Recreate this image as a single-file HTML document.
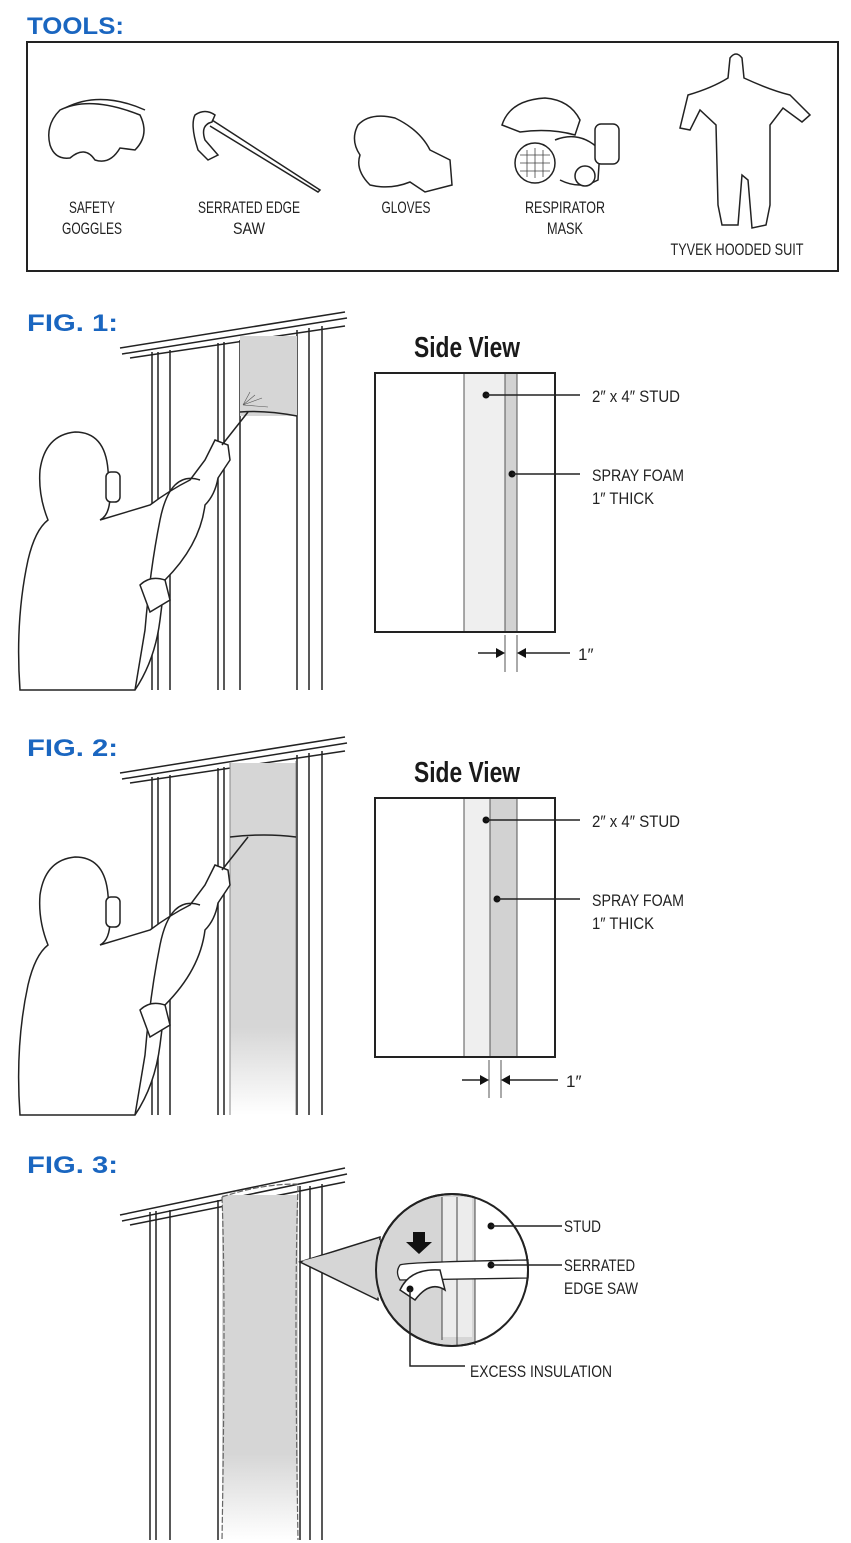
<!DOCTYPE html>
<html><head><meta charset="utf-8"><style>
html,body{margin:0;padding:0;background:#fff;}
svg{display:block;}
.t{font-family:"Liberation Sans",sans-serif;font-size:17px;fill:#222;}
.h{font-family:"Liberation Sans",sans-serif;font-weight:bold;font-size:24px;fill:#1a66c0;}
.sv{font-family:"Liberation Sans",sans-serif;font-weight:bold;font-size:29px;fill:#1a1a1a;}
.ln{stroke:#222;stroke-width:1.5;fill:none;}
.lw{stroke:#222;stroke-width:1.5;fill:#fff;}
</style></head><body>
<svg width="851" height="1543" viewBox="0 0 851 1543" xmlns="http://www.w3.org/2000/svg">
<defs>
<linearGradient id="fade" x1="0" y1="0" x2="0" y2="1"><stop offset="0.75" stop-color="#d6d6d6"/><stop offset="1" stop-color="#fff"/></linearGradient>
<linearGradient id="fadeW" x1="0" y1="0" x2="0" y2="1"><stop offset="0.8" stop-color="#222"/><stop offset="1" stop-color="#fff"/></linearGradient>
</defs>
<text class="h" x="27" y="34" textLength="97" lengthAdjust="spacingAndGlyphs">TOOLS:</text>
<rect x="27" y="42" width="811" height="229" fill="none" stroke="#222" stroke-width="2"/>
<path class="ln" d="M60 110 Q90 95 140 115 Q150 135 135 150 L120 148 Q110 165 95 160 Q85 145 70 158 Q55 160 50 145 Q45 125 60 110Z"/>
<path class="ln" d="M65 108 Q100 90 145 110"/>
<text class="t" x="92" y="213" text-anchor="middle" textLength="46" lengthAdjust="spacingAndGlyphs">SAFETY</text>
<text class="t" x="92" y="234" text-anchor="middle" textLength="60" lengthAdjust="spacingAndGlyphs">GOGGLES</text>
<path class="ln" d="M195 115 Q190 125 198 150 L208 160 L218 155 L205 140 Q200 125 212 122 L215 115 Q205 108 195 115Z"/>
<path class="ln" d="M212 120 L320 190 L318 192 L210 126"/>
<text class="t" x="249" y="213" text-anchor="middle" textLength="102" lengthAdjust="spacingAndGlyphs">SERRATED EDGE</text>
<text class="t" x="249" y="234" text-anchor="middle" textLength="32" lengthAdjust="spacingAndGlyphs">SAW</text>
<path class="ln" d="M358 125 Q370 112 395 118 Q420 130 430 150 L450 160 L452 185 L425 192 L410 182 Q390 190 370 185 Q355 170 360 155 Q350 140 358 125Z"/>
<text class="t" x="406" y="213" text-anchor="middle" textLength="49" lengthAdjust="spacingAndGlyphs">GLOVES</text>
<path class="ln" d="M502 125 Q510 100 545 98 Q570 100 580 120 L575 135 Q550 128 520 132 Z"/>
<circle class="lw" cx="535" cy="163" r="20"/>
<path d="M520 163h30M520 155h30M520 171h30M535 148v30M527 150v27M543 150v27" stroke="#444" stroke-width="0.8"/>
<path class="ln" d="M555 140 Q580 130 600 150 L598 180 Q580 190 560 180"/>
<rect class="lw" x="595" y="124" width="24" height="40" rx="6"/>
<circle class="lw" cx="585" cy="176" r="10"/>
<text class="t" x="565" y="213" text-anchor="middle" textLength="80" lengthAdjust="spacingAndGlyphs">RESPIRATOR</text>
<text class="t" x="565" y="234" text-anchor="middle" textLength="36" lengthAdjust="spacingAndGlyphs">MASK</text>
<path class="ln" d="M730 58 Q736 50 742 58 L744 78 Q770 90 790 95 L810 115 L802 122 L783 108 L770 125 L770 205 L766 225 L752 228 L748 180 L742 175 L738 225 L722 225 L718 205 L716 125 L700 110 L690 130 L680 128 L688 95 Q712 88 728 78Z"/>
<text class="t" x="737" y="255" text-anchor="middle" textLength="133" lengthAdjust="spacingAndGlyphs">TYVEK HOODED SUIT</text>

<text class="h" x="27" y="331" textLength="91" lengthAdjust="spacingAndGlyphs">FIG. 1:</text>
<path class="ln" d="M120 348 L345 312 M122 354 L347 318 M130 358 L345 326"/>
<path class="ln" d="M152 352 V690 M158 352 V690 M170 350 V690 M218 343 V690 M224 342 V690 M240 340 V690 M297 330 V690 M309 328 V690 M322 326 V690" stroke="url(#fadeW)"/>
<rect x="240" y="336" width="57" height="80" fill="#d6d6d6"/>
<path d="M240 412 Q265 410 297 416" class="ln"/>
<g stroke="#555" stroke-width="0.6"><path d="M243 405 L255 395 M243 405 L262 398 M243 405 L250 392 M243 405 L268 407"/></g>
<path class="lw" d="M40 470 Q45 435 75 432 Q105 432 108 470 L110 495 Q110 515 100 520 L150 505 Q170 490 190 480 L205 460 L215 440 L228 445 L230 460 L218 478 Q215 495 205 505 Q200 545 165 580 L160 620 Q155 660 135 690 L20 690 Q15 620 28 560 Q35 530 48 520 Q38 495 40 470Z"/>
<rect class="lw" x="106" y="472" width="14" height="30" rx="5"/>
<path class="ln" d="M222 445 L248 412 M200 480 Q170 470 160 520 Q150 570 145 630 Q140 660 135 690" stroke-width="3"/>
<path class="lw" d="M140 585 Q150 575 165 580 L170 600 L150 612 Z"/>
<text class="sv" x="467" y="357" text-anchor="middle" textLength="106" lengthAdjust="spacingAndGlyphs">Side View</text>
<rect x="375" y="373" width="180" height="259" fill="#fff" stroke="#222" stroke-width="2"/>
<rect x="464" y="374" width="41" height="257" fill="#efefef"/>
<rect x="505" y="374" width="12" height="257" fill="#d2d2d2"/>
<path d="M464 374V631M505 374V631M517 374V631" stroke="#555" stroke-width="1"/>
<circle cx="486" cy="395" r="3.5" fill="#111"/><path class="ln" d="M486 395H580"/>
<text class="t" x="592" y="402" textLength="88" lengthAdjust="spacingAndGlyphs">2″ x 4″ STUD</text>
<circle cx="512" cy="474" r="3.5" fill="#111"/><path class="ln" d="M512 474H580"/>
<text class="t" x="592" y="481" textLength="92" lengthAdjust="spacingAndGlyphs">SPRAY FOAM</text>
<text class="t" x="592" y="504" textLength="62" lengthAdjust="spacingAndGlyphs">1″ THICK</text>
<path d="M505 635V672M517 635V672" stroke="#555" stroke-width="1"/>
<path class="ln" d="M478 653H503M519 653H570"/>
<path d="M505 653l-9-5v10zM517 653l9-5v10z" fill="#111"/>
<text class="t" x="578" y="660">1″</text>

<text class="h" x="27" y="756" textLength="91" lengthAdjust="spacingAndGlyphs">FIG. 2:</text>
<g transform="translate(0,425)">
<path class="ln" d="M120 348 L345 312 M122 354 L347 318 M130 358 L345 326"/>
<path class="ln" d="M152 352 V690 M158 352 V690 M170 350 V690 M218 343 V690 M224 342 V690 M297 330 V690 M309 328 V690 M322 326 V690" stroke="url(#fadeW)"/>
<rect x="230" y="338" width="66" height="352" fill="url(#fade)"/>
<path d="M230 338V690M296 336V690" stroke="#888" stroke-width="1"/>
<path d="M230 412 Q265 408 296 412" class="ln"/>
<path class="lw" d="M40 470 Q45 435 75 432 Q105 432 108 470 L110 495 Q110 515 100 520 L150 505 Q170 490 190 480 L205 460 L215 440 L228 445 L230 460 L218 478 Q215 495 205 505 Q200 545 165 580 L160 620 Q155 660 135 690 L20 690 Q15 620 28 560 Q35 530 48 520 Q38 495 40 470Z"/>
<rect class="lw" x="106" y="472" width="14" height="30" rx="5"/>
<path class="ln" d="M222 445 L248 412 M200 480 Q170 470 160 520 Q150 570 145 630 Q140 660 135 690" stroke-width="3"/>
<path class="lw" d="M140 585 Q150 575 165 580 L170 600 L150 612 Z"/>
</g>
<text class="sv" x="467" y="782" text-anchor="middle" textLength="106" lengthAdjust="spacingAndGlyphs">Side View</text>
<rect x="375" y="798" width="180" height="259" fill="#fff" stroke="#222" stroke-width="2"/>
<rect x="464" y="799" width="26" height="257" fill="#efefef"/>
<rect x="490" y="799" width="27" height="257" fill="#d2d2d2"/>
<path d="M464 799V1056M490 799V1056M517 799V1056" stroke="#555" stroke-width="1"/>
<circle cx="486" cy="820" r="3.5" fill="#111"/><path class="ln" d="M486 820H580"/>
<text class="t" x="592" y="827" textLength="88" lengthAdjust="spacingAndGlyphs">2″ x 4″ STUD</text>
<circle cx="497" cy="899" r="3.5" fill="#111"/><path class="ln" d="M497 899H580"/>
<text class="t" x="592" y="906" textLength="92" lengthAdjust="spacingAndGlyphs">SPRAY FOAM</text>
<text class="t" x="592" y="929" textLength="62" lengthAdjust="spacingAndGlyphs">1″ THICK</text>
<path d="M489 1060V1098M501 1060V1098" stroke="#555" stroke-width="1"/>
<path class="ln" d="M462 1080H487M503 1080H558"/>
<path d="M489 1080l-9-5v10zM501 1080l9-5v10z" fill="#111"/>
<text class="t" x="566" y="1087">1″</text>

<text class="h" x="27" y="1173" textLength="91" lengthAdjust="spacingAndGlyphs">FIG. 3:</text>
<path class="ln" d="M120 1215 L345 1168 M122 1221 L347 1174 M130 1225 L345 1182"/>
<path class="ln" d="M150 1212 V1540 M156 1211 V1540 M170 1210 V1540 M218 1200 V1540 M300 1186 V1540 M310 1186 V1540 M322 1184 V1540" stroke="url(#fadeW)"/>
<rect x="222" y="1195" width="76" height="345" fill="url(#fade)"/>
<path d="M222 1197 Q226 1300 222 1540 M298 1186 Q294 1300 298 1540 M222 1197 Q260 1184 298 1184" stroke="#666" stroke-width="1.2" fill="none" stroke-dasharray="6 2"/>
<path d="M300 1262 L380 1237 L378 1300 Z" fill="#d6d6d6" stroke="#222" stroke-width="1.5"/>
<circle cx="452" cy="1270" r="76" fill="#d6d6d6" stroke="#222" stroke-width="2"/>
<path d="M302 1261 L380 1240 L379 1298 Z" fill="#d6d6d6"/>
<path d="M475 1196 A76 76 0 0 1 527 1265 L527 1345 L475 1345 Z" fill="#fff"/>
<rect x="442" y="1197" width="30" height="140" fill="#ececec"/>
<path d="M442 1197V1340M457 1197V1345M475 1197V1345" stroke="#444" stroke-width="1"/>
<path d="M400 1265 Q405 1262 528 1260 L528 1278 L400 1280 Q395 1272 400 1265Z" fill="#fff" stroke="#222" stroke-width="1.3"/>
<circle cx="452" cy="1270" r="76" fill="none" stroke="#222" stroke-width="2"/>
<path d="M413 1232h12v10h7l-13 12 -13 -12h7z" fill="#111"/>
<path class="lw" d="M400 1290 Q410 1268 440 1270 L445 1290 Q430 1280 415 1300 Z"/>
<circle cx="491" cy="1226" r="3.5" fill="#111"/><path class="ln" d="M491 1226H562"/>
<text class="t" x="564" y="1232" textLength="37" lengthAdjust="spacingAndGlyphs">STUD</text>
<circle cx="491" cy="1265" r="3.5" fill="#111"/><path class="ln" d="M491 1265H562"/>
<text class="t" x="564" y="1271" textLength="71" lengthAdjust="spacingAndGlyphs">SERRATED</text>
<text class="t" x="564" y="1294" textLength="74" lengthAdjust="spacingAndGlyphs">EDGE SAW</text>
<circle cx="410" cy="1289" r="3.5" fill="#111"/><path class="ln" d="M410 1289V1366H465"/>
<text class="t" x="470" y="1377" textLength="142" lengthAdjust="spacingAndGlyphs">EXCESS INSULATION</text>
</svg>
</body></html>
